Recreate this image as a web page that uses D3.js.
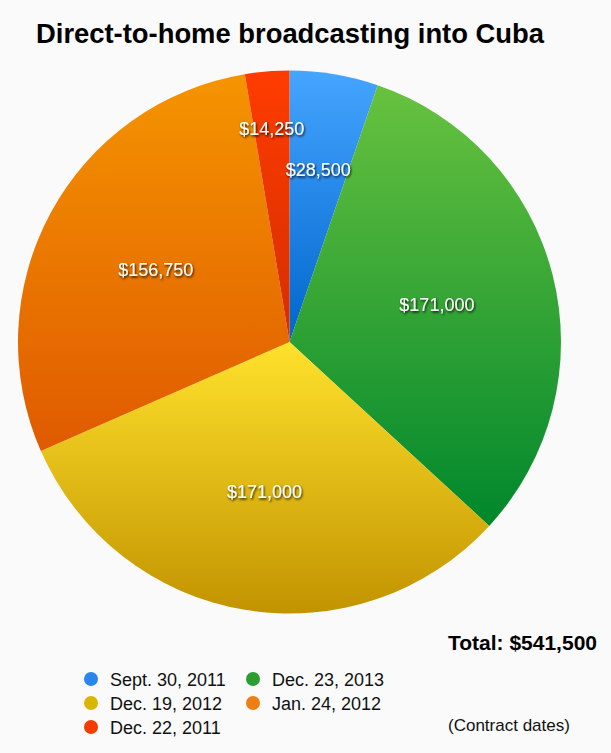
<!DOCTYPE html>
<html>
<head>
<meta charset="utf-8">
<script src="https://cdn.jsdelivr.net/npm/d3@7"></script>
<style>
  body { margin: 0; background: #fafafa; }
  svg { display: block; font-family: "Liberation Sans", Arial, Helvetica, sans-serif; }
</style>
</head>
<body>
<script>
// Data
const dates = ["Sept. 30, 2011", "Dec. 23, 2013", "Dec. 19, 2012", "Jan. 24, 2012", "Dec. 22, 2011"];
const amounts = [28500, 171000, 171000, 156750, 14250];
const topColors = ["#45a5ff", "#68c23f", "#ffe22c", "#f59400", "#ff3c00"];
const bottomColors = ["#0065cc", "#00872c", "#c29300", "#df5a00", "#d42e00"];
const legendColors = ["#2a86ea", "#2a9e32", "#dab600", "#ef7e12", "#f23c00"];

const width = 611, height = 753;
const cx = 289.5, cy = 342, radius = 271.5;

const svg = d3.select("body").append("svg")
    .attr("width", width)
    .attr("height", height);

const defs = svg.append("defs");

// vertical gradient per slice
amounts.forEach((d, i) => {
    const g = defs.append("linearGradient")
        .attr("id", "grad" + i)
        .attr("x1", 0).attr("y1", 0).attr("x2", 0).attr("y2", 1);
    g.append("stop").attr("offset", "0%").attr("stop-color", topColors[i]);
    g.append("stop").attr("offset", "100%").attr("stop-color", bottomColors[i]);
});

// text shadow for slice labels
const shadow = defs.append("filter").attr("id", "shadow")
    .attr("x", "-20%").attr("y", "-40%").attr("width", "140%").attr("height", "180%");
shadow.append("feDropShadow")
    .attr("dx", 1).attr("dy", 1.5).attr("stdDeviation", 1.2)
    .attr("flood-color", "#000").attr("flood-opacity", 0.85);

// Title
svg.append("text")
    .attr("x", 36)
    .attr("y", 43)
    .attr("font-size", 28)
    .attr("font-weight", "bold")
    .attr("textLength", 508)
    .attr("lengthAdjust", "spacingAndGlyphs")
    .text("Direct-to-home broadcasting into Cuba");

// Pie
const pie = d3.pie().sort(null).value(d => d);
const arcs = pie(amounts);
const arc = d3.arc().innerRadius(0).outerRadius(radius);

const g = svg.append("g").attr("transform", `translate(${cx},${cy})`);

g.selectAll("path.slice")
    .data(arcs)
    .enter()
    .append("path")
    .attr("class", "slice")
    .attr("d", arc)
    .attr("fill", (d, i) => `url(#grad${i})`);

// small slices get their label pushed outward
const labelRadius = d => {
    const span = d.endAngle - d.startAngle;
    if (span < 0.2) return radius * 0.79;
    if (span < 0.4) return radius * 0.645;
    return radius * 0.56;
};

g.selectAll("text.label")
    .data(arcs)
    .enter()
    .append("text")
    .attr("class", "label")
    .attr("x", d => Math.sin((d.startAngle + d.endAngle) / 2) * labelRadius(d))
    .attr("y", d => -Math.cos((d.startAngle + d.endAngle) / 2) * labelRadius(d))
    .attr("dy", "0.35em")
    .attr("text-anchor", "middle")
    .attr("font-size", 18)
    .attr("fill", "#fff")
    .attr("filter", "url(#shadow)")
    .text(d => "$" + d3.format(",")(d.data));

// Total
svg.append("text")
    .attr("x", 597)
    .attr("y", 650)
    .attr("text-anchor", "end")
    .attr("font-size", 21)
    .attr("font-weight", "bold")
    .text("Total: $" + d3.format(",")(d3.sum(amounts)));

// Legend (2 columns, row-major)
const legend = svg.append("g");
const items = legend.selectAll("g")
    .data(dates)
    .enter()
    .append("g")
    .attr("transform", (d, i) => `translate(${91 + (i % 2) * 162},${679 + Math.floor(i / 2) * 24})`);

items.append("circle")
    .attr("r", 7)
    .attr("fill", (d, i) => legendColors[i]);

items.append("text")
    .attr("x", 19)
    .attr("y", 6.5)
    .attr("font-size", 18)
    .attr("fill", "#111")
    .text(d => d);

svg.append("text")
    .attr("x", 448)
    .attr("y", 731)
    .attr("font-size", 17)
    .attr("fill", "#111")
    .text("(Contract dates)");
</script>
</body>
</html>
